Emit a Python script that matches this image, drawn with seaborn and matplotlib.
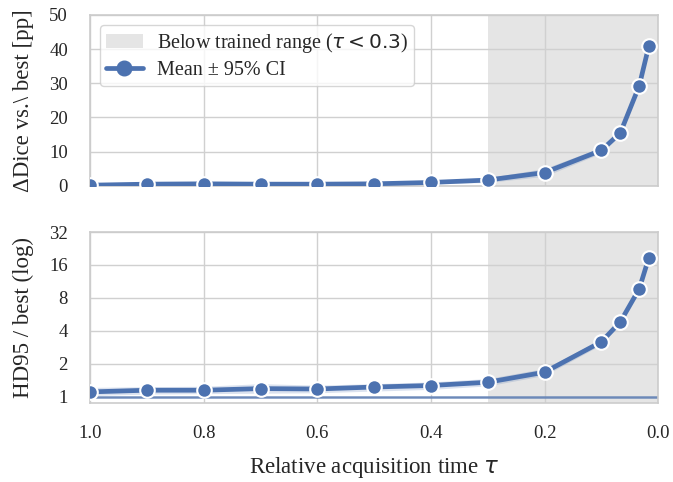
import numpy as np
import pandas as pd
import matplotlib
matplotlib.use("Agg")
import matplotlib.pyplot as plt
import seaborn as sns
from matplotlib.patches import Patch
from matplotlib.lines import Line2D
from matplotlib.ticker import FixedLocator, FixedFormatter

# ---- data ----
tau = [1.0, 0.9, 0.8, 0.7, 0.6, 0.5, 0.4, 0.3, 0.2, 0.1, 1/15, 1/30, 1/60]
dice_mean = [0.2, 0.5, 0.6, 0.5, 0.5, 0.6, 1.0, 1.7, 3.9, 10.4, 15.5, 29.3, 40.8]
dice_lo   = [0.0, 0.2, 0.3, 0.2, 0.2, 0.3, 0.6, 1.0, 2.8, 9.6, 14.8, 28.6, 40.2]
dice_hi   = [0.5, 0.8, 0.9, 0.8, 0.8, 0.9, 1.4, 2.4, 5.1, 11.3, 16.3, 30.0, 41.4]
hd_mean = [1.11, 1.15, 1.15, 1.19, 1.18, 1.23, 1.27, 1.36, 1.68, 3.18, 4.84, 9.7, 18.5]
hd_lo   = [1.03, 1.06, 1.07, 1.08, 1.09, 1.13, 1.17, 1.26, 1.57, 3.00, 4.62, 9.3, 17.8]
hd_hi   = [1.22, 1.24, 1.25, 1.32, 1.28, 1.32, 1.37, 1.47, 1.82, 3.36, 5.06, 10.1, 19.2]
x_ticks = [1.0, 0.8, 0.6, 0.4, 0.2, 0.0]
hd_ticks = [1, 2, 4, 8, 16, 32]
dice_ticks = [0, 10, 20, 30, 40, 50]

df = pd.DataFrame({"tau": tau, "dice": dice_mean, "hd": hd_mean})

sns.set_theme(style="whitegrid")
plt.rcParams["font.family"] = ["Liberation Serif", "DejaVu Serif"]
plt.rcParams["mathtext.fontset"] = "dejavusans"
plt.rcParams["axes.edgecolor"] = "#cccccc"
plt.rcParams["grid.color"] = "#d0d0d0"

blue = "#4C72B0"
shade = "#e5e5e5"

fig, (ax1, ax2) = plt.subplots(2, 1, figsize=(6.73, 4.82), dpi=100, sharex=True)
fig.subplots_adjust(left=0.134, right=0.978, top=0.969, bottom=0.164, hspace=0.27)

for ax in (ax1, ax2):
    ax.axvspan(0.3, 0.0, color=shade, zorder=0, lw=0)
    for s in ax.spines.values():
        s.set_linewidth(1.2)
        s.set_color("#cccccc")

# top
ax1.fill_between(tau, dice_lo, dice_hi, color=blue, alpha=0.2, lw=0, zorder=2)
sns.lineplot(data=df, x="tau", y="dice", ax=ax1, color=blue, lw=3.4, marker="o",
             markersize=10.5, markeredgecolor="white", markeredgewidth=1.5, zorder=3)
ax1.set_ylim(0, 50)
ax1.set_yticks(dice_ticks)
ax1.set_ylabel("ΔDice vs.\\ best [pp]", fontsize=16.5, labelpad=11)
ax1.set_xlabel("")

# bottom
ax2.set_yscale("log", base=2)
ax2.axhline(1, color=blue, alpha=0.75, lw=1.8, zorder=1.5)
ax2.fill_between(tau, hd_lo, hd_hi, color=blue, alpha=0.2, lw=0, zorder=2)
sns.lineplot(data=df, x="tau", y="hd", ax=ax2, color=blue, lw=3.4, marker="o",
             markersize=10.5, markeredgecolor="white", markeredgewidth=1.5, zorder=3)
ax2.set_ylim(0.88, 32)
ax2.yaxis.set_major_locator(FixedLocator(hd_ticks))
ax2.yaxis.set_major_formatter(FixedFormatter([str(t) for t in hd_ticks]))
ax2.yaxis.set_minor_locator(FixedLocator([]))
ax2.set_ylabel("HD95 / best (log)", fontsize=16.5, labelpad=11)
ax2.set_xlabel(r"Relative acquisition time $\tau$", fontsize=16.5, labelpad=9)

ax2.set_xlim(1.0, 0.0)
ax2.set_xticks(x_ticks)
ax2.set_xticklabels([f"{t:.1f}" for t in x_ticks])

for ax in (ax1, ax2):
    ax.tick_params(axis="both", labelsize=13.5, length=0)
    ax.tick_params(axis="y", pad=16)
    ax.tick_params(axis="x", pad=16)

handles = [Patch(facecolor=shade, edgecolor="none"),
           Line2D([], [], color=blue, lw=3.4, marker="o", markersize=10.5,
                  markeredgecolor=blue, markeredgewidth=1.0)]
labels = [r"Below trained range ($\tau < 0.3$)", "Mean ± 95% CI"]
leg = ax1.legend(handles, labels, loc="upper left", fontsize=14.5, frameon=True,
                 borderaxespad=0.5, borderpad=0.3, labelspacing=0.3,
                 handlelength=1.8, handletextpad=0.7)
leg.get_frame().set_edgecolor("#cccccc")

fig.savefig("out.png", dpi=100)
